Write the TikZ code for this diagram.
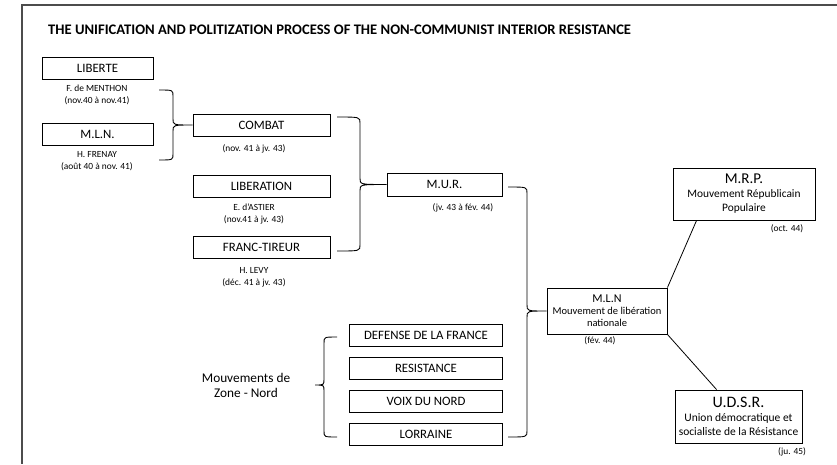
\documentclass[tikz,border=0pt]{standalone}
\usepackage{fontspec}
\setmainfont{Carlito}
\begin{document}
\begin{tikzpicture}[x=1pt,y=-1pt,
  box/.style={draw,line width=0.9pt,inner sep=0pt,minimum height=22pt,font=\fontsize{12.8}{15}\selectfont},
  note/.style={align=center,inner sep=0pt,font=\fontsize{9.4}{12}\selectfont},
  bigbox/.style={draw,line width=0.9pt,inner sep=0pt,align=center},
  brace/.style={line width=0.9pt},
  link/.style={line width=0.8pt}]
\useasboundingbox (0,0) rectangle (837,464);
\draw[black!70,line width=1.2pt] (837,5)--(22,5)--(22,464);
\node[anchor=west,inner sep=0pt,font=\fontsize{14.6}{16}\selectfont\bfseries] (title) at (48,30) {THE UNIFICATION AND POLITIZATION PROCESS OF THE NON-COMMUNIST INTERIOR RESISTANCE};
% zone sud
\node[box,minimum width=111pt] (liberte) at (97.5,68) {LIBERTE};
\node[note] (menthon) at (97,95) {F. de MENTHON\\(nov.40 à nov.41)};
\node[box,minimum width=111pt] (mlnA) at (97.5,134.5) {M.L.N.};
\node[note] (frenay) at (97,161) {H. FRENAY\\(août 40 à nov. 41)};
\node[box,minimum width=137pt] (combat) at (261.5,125) {COMBAT};
\node[note] (combatd) at (254,149) {(nov. 41 à jv. 43)};
\node[box,minimum width=137pt] (liberation) at (261.5,186) {LIBERATION};
\node[note] (astier) at (254,214) {E. d'ASTIER\\(nov.41 à jv. 43)};
\node[box,minimum width=137pt] (franc) at (261.5,247) {FRANC-TIREUR};
\node[note] (levy) at (254,277) {H. LEVY\\(déc. 41 à jv. 43)};
\node[box,minimum width=115pt,minimum height=23pt] (mur) at (444.5,184.5) {M.U.R.};
\node[note] (murd) at (463,208) {(jv. 43 à fév. 44)};
% zone nord
\node[box,minimum width=153pt] (defense) at (426,335) {DEFENSE DE LA FRANCE};
\node[box,minimum width=153pt] (resistance) at (426,368) {RESISTANCE};
\node[box,minimum width=153pt] (voix) at (426,401) {VOIX DU NORD};
\node[box,minimum width=153pt] (lorraine) at (426,434) {LORRAINE};
\node[align=center,inner sep=0pt,font=\fontsize{13.3}{15}\selectfont] (zone) at (246,385) {Mouvements de\\Zone - Nord};
\coordinate (ztip) at (315,385);
% fusion
\node[bigbox,minimum width=120pt,minimum height=46pt,font=\fontsize{10.5}{12}\selectfont] (mln) at (607,311) {{\fontsize{12}{13}\selectfont M.L.N}\\Mouvement de libération\\nationale};
\node[note] (mlnd) at (600,341) {(fév. 44)};
\node[bigbox,minimum width=142pt,minimum height=52pt,font=\fontsize{11.4}{14}\selectfont] (mrp) at (744,194) {{\fontsize{15}{16}\selectfont M.R.P.}\\Mouvement Républicain\\Populaire};
\node[note] (mrpd) at (787,229) {(oct. 44)};
\node[bigbox,minimum width=127pt,minimum height=53pt,font=\fontsize{11.5}{14}\selectfont] (udsr) at (738.5,416.5) {{\fontsize{16}{16}\selectfont U.D.S.R.}\\Union démocratique et\\socialiste de la Résistance};
\node[note] (udsrd) at (792,452) {(ju. 45)};
% accolades
\draw[brace] (159,90) .. controls (173,90) .. (173,96) -- (173,119) .. controls (173,125) .. (combat.west) .. controls (173,125) .. (173,131) -- (173,154) .. controls (173,160) .. (159,160);
\draw[brace] (337,117) .. controls (360,117) .. (360,123) -- (360,178.5) .. controls (360,184.5) .. (mur.west) .. controls (360,184.5) .. (360,190.5) -- (360,245) .. controls (360,251) .. (337,251);
\draw[brace] (508,187) .. controls (527,187) .. (527,193) -- (527,305) .. controls (527,311) .. (mln.west) .. controls (527,311) .. (527,317) -- (527,431) .. controls (527,437) .. (508,437);
\draw[brace] (337,337) .. controls (324,337) .. (324,343) -- (324,379) .. controls (324,385) .. (ztip) .. controls (324,385) .. (324,391) -- (324,431) .. controls (324,437) .. (337,437);
\draw[link] (mln.north east) -- ([xshift=24pt]mrp.south west);
\draw[link] (mln.south east) -- ([xshift=42pt]udsr.north west);
\end{tikzpicture}
\end{document}
